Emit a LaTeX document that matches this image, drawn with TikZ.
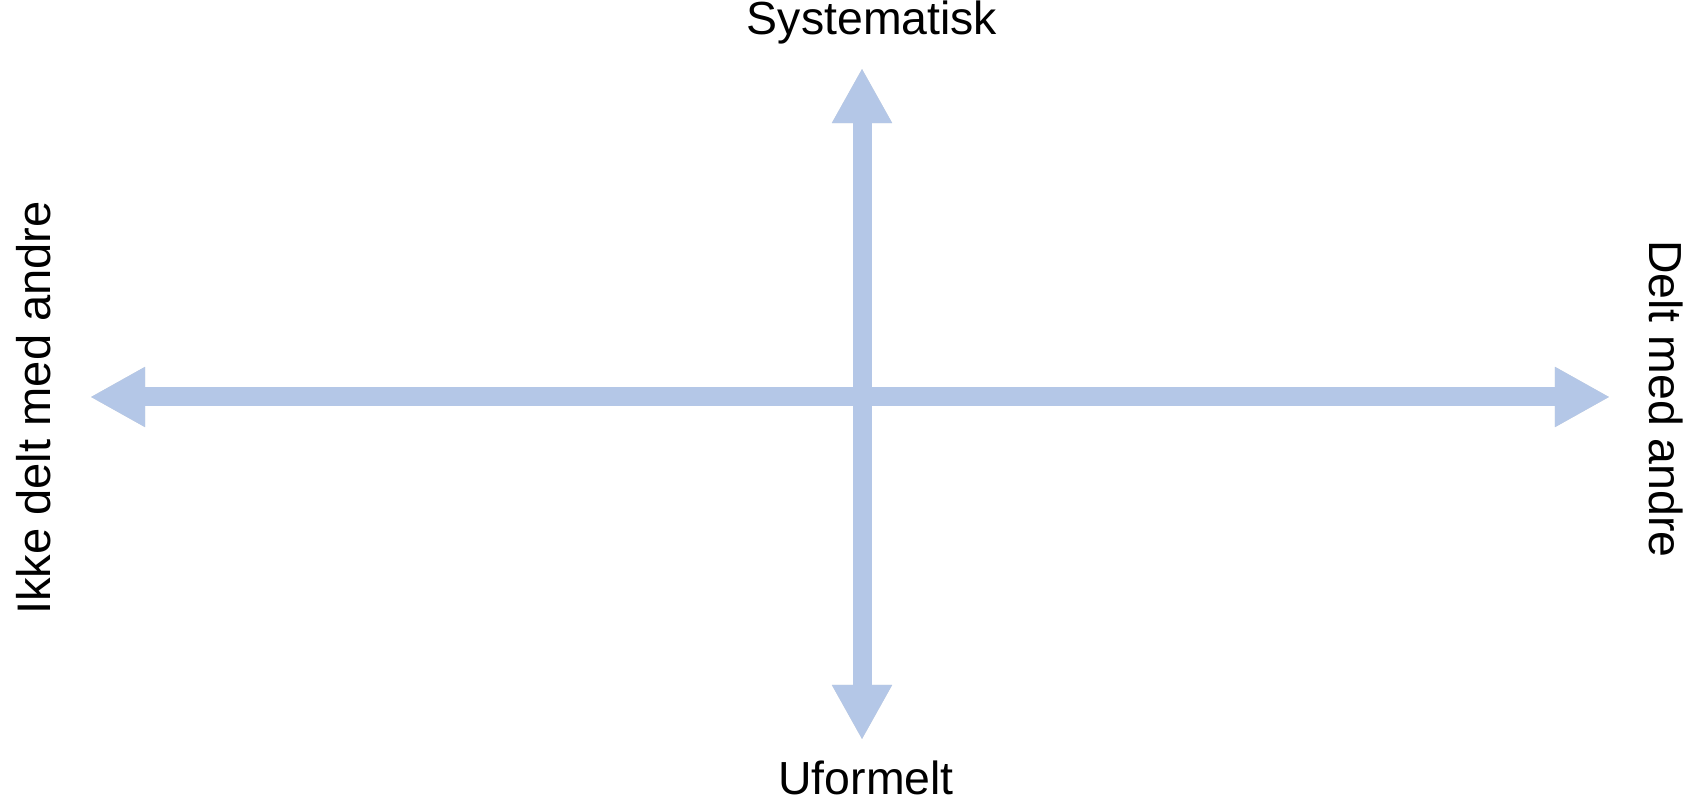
\documentclass[tikz,border=0pt]{standalone}
\usepackage{fontspec}
\setmainfont{Liberation Sans}
\usetikzlibrary{arrows.meta}
\definecolor{axisblue}{RGB}{180,199,231}
\tikzset{
  axisline/.style={line width=0.19cm, color=axisblue, {Triangle[width=0.56cm,length=0.55cm]}-{Triangle[width=0.56cm,length=0.55cm]}},
  axisshadow/.style={axisline, color=black!60, opacity=0.25, shift={(2,3)}},
  pole/.style={font=\fontsize{13.2}{15}\selectfont, anchor=base, inner sep=0pt}
}
\begin{document}
\begin{tikzpicture}[x=0.01cm, y=-0.01cm]
    \useasboundingbox (0,0) rectangle (1697,804);
    % axis ends
    \coordinate (west) at (90,397);
    \coordinate (east) at (1610,397);
    \coordinate (north) at (862,68);
    \coordinate (south) at (862,740);
    % horizontal axis first, vertical one on top
    \draw[axisshadow] (west) -- (east);
    \draw[axisline] (west) -- (east);
    \draw[axisshadow] (north) -- (south);
    \draw[axisline] (north) -- (south);
    % labels
    \node[pole] (sys) at (872,35) {Systematisk};
    \node[pole] (uform) at (866,795) {Uformelt};
    \node[pole, rotate=90, font=\fontsize{13.4}{15}\selectfont] (ikke) at (50,408) {Ikke delt med andre};
    \node[pole, rotate=-90] (delt) at (1649,399) {Delt med andre};
\end{tikzpicture}
\end{document}
